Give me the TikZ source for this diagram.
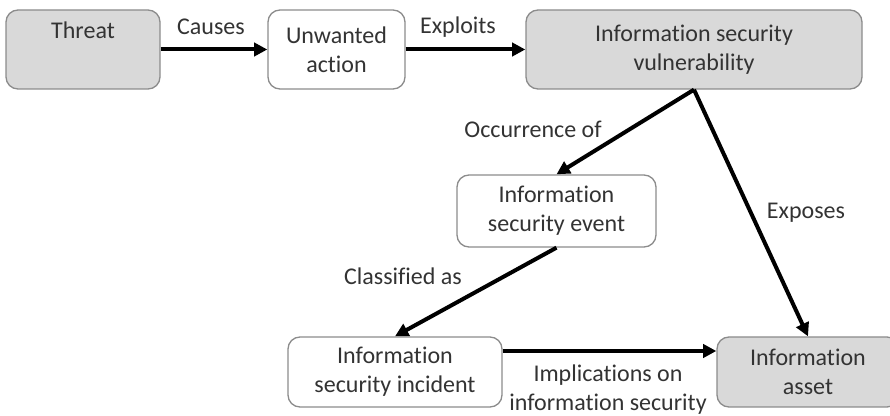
\documentclass[tikz,border=0pt]{standalone}
\usepackage{fontspec}
\setmainfont{Carlito}[Ligatures={NoCommon}]
\usetikzlibrary{arrows.meta}

\definecolor{boxgray}{HTML}{D9D9D9}
\definecolor{edgegray}{HTML}{8C8C8C}
\definecolor{txtgray}{HTML}{333333}

\tikzset{
  base/.style={draw=edgegray, line width=1pt, rounded corners=9pt, align=center,
    text=txtgray, font=\fontsize{18}{21.75}\selectfont, inner sep=2pt},
  graybox/.style={base, fill=boxgray},
  whitebox/.style={base, fill=white},
  link/.style={line width=3pt, -{Triangle[length=10pt,width=10pt]}},
  lbl/.style={text=txtgray, font=\fontsize{18}{21.75}\selectfont, align=center, inner sep=0pt}
}

\begin{document}
\begin{tikzpicture}[x=0.75pt,y=0.75pt,yscale=-1,xscale=1]
\useasboundingbox (0,0) rectangle (890,416);

% boxes
\node[graybox, minimum width=115.5pt, minimum height=59.25pt] (threat) at (83,49.5) {Threat\\\strut};
\node[whitebox, minimum width=102.75pt, minimum height=59.25pt] (action) at (336.5,49.5) {Unwanted\\action};
\node[graybox, minimum width=252pt, minimum height=59.25pt] (vuln) at (694,49.5) {Information security\\vulnerability};
\node[whitebox, minimum width=149.25pt, minimum height=54pt] (event) at (556.5,211) {Information\\security event};
\node[whitebox, minimum width=160.5pt, minimum height=52.5pt] (incident) at (395,372) {Information\\security incident};
\node[graybox, minimum width=136.5pt, minimum height=52.5pt] (asset) at (808,372) {Information\\asset};

% connectors
\draw[link] (threat) -- (action);
\draw[link] (action) -- (vuln);
\draw[link] (vuln.south) -- (event.north);
\draw[link] (vuln.south) -- (asset.north);
\draw[link] (event.south) -- (incident.north);
\draw[link] ([yshift=11pt]incident.north east) -- ([yshift=11pt]asset.north west);

% labels
\node[lbl] (causes) at (211,27) {Causes};
\node[lbl] (exploits) at (458,27) {Exploits};
\node[lbl] (occurs) at (533,129) {Occurrence of};
\node[lbl] (exposes) at (806,213) {Exposes};
\node[lbl] (classed) at (403,276) {Classified as};
\node[lbl] (implies) at (608,390) {Implications on\\information security};
\end{tikzpicture}
\end{document}
